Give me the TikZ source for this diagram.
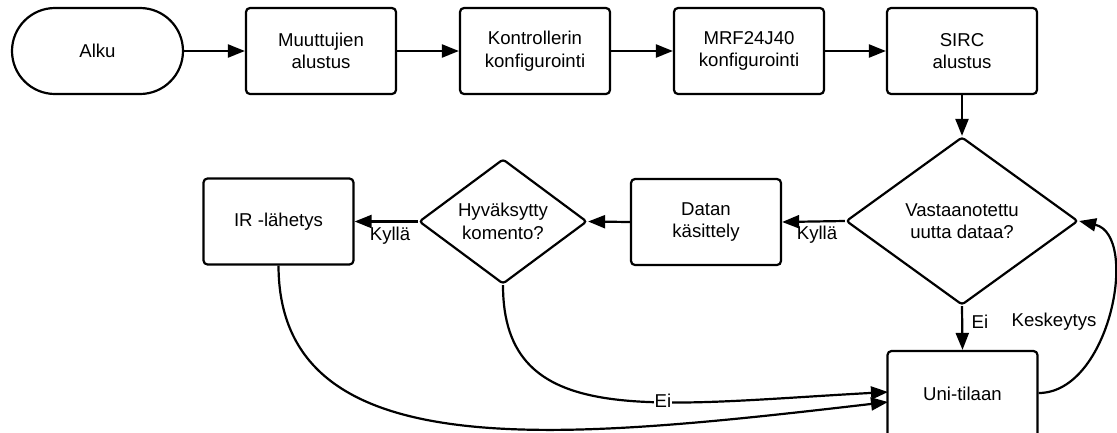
\documentclass[tikz,border=0pt]{standalone}
\usepackage{fontspec}
\setmainfont{Liberation Sans}
\usetikzlibrary{shapes.geometric,arrows.meta}
\begin{document}
\begin{tikzpicture}[x=1pt,y=-1pt,
  font=\fontsize{18.6}{22.5}\selectfont,
  every node/.style={inner sep=0pt, align=center},
  procbox/.style={draw, line width=2.2pt, rounded corners=4pt, minimum width=150pt, minimum height=86pt},
  termbox/.style={draw, line width=2.2pt, rounded corners=43pt, minimum width=171pt, minimum height=86pt},
  decbig/.style={draw, diamond, line width=2.2pt, rounded corners=3pt, minimum width=232pt, minimum height=168pt, aspect=1.38},
  decsmall/.style={draw, diamond, line width=2.2pt, rounded corners=3pt, minimum width=168pt, minimum height=125pt, aspect=1.34},
  conn/.style={line width=2.2pt, -{Triangle[length=17pt,width=13pt]}},
  lbl/.style={inner sep=1pt}
]
\useasboundingbox (0,0) rectangle (1117,432);
\node[termbox] (alku) at (97.5,51) {Alku};
\node[procbox] (muut) at (321,51) {Muuttujien\\alustus};
\node[procbox] (kont) at (535,51) {Kontrollerin\\konfigurointi};
\node[procbox] (mrf) at (749,51) {MRF24J40\\konfigurointi};
\node[procbox] (sirc) at (962,51) {SIRC\\alustus};
\node[decbig] (vast) at (962,221) {Vastaanotettu\\uutta dataa?};
\node[procbox] (datan) at (706,222) {Datan\\käsittely};
\node[decsmall] (hyv) at (503,221.5) {Hyväksytty\\komento?};
\node[procbox] (ir) at (278.5,221.5) {IR -lähetys};
\node[procbox] (uni) at (962.5,394) {Uni-tilaan};

\coordinate (uniA) at (888,392);
\coordinate (uniB) at (888,402);

\draw[conn] (alku) -- (muut);
\draw[conn] (muut) -- (kont);
\draw[conn] (kont) -- (mrf);
\draw[conn] (mrf) -- (sirc);
\draw[conn] (sirc) -- (vast);
\draw[conn] (vast.west) -- (datan.east);
\draw[conn] (datan.west) -- (hyv.east);
\draw[conn] (hyv.west) -- (ir.east |- hyv.west);
\draw[conn] (vast.south) -- (uni.north);
\draw[conn] (uni.east |- 0,393) .. controls (1110,393) and (1140,235) .. (vast.east);
\draw[conn] (hyv.south) .. controls (503,430) and (650,405) .. (uniA);
\draw[conn] (ir.south) .. controls (279,470) and (560,440) .. (uniB);

\node[lbl] (k1) at (390,236) {Kyllä};
\node[lbl] (k2) at (817,235) {Kyllä};
\node[lbl] (e1) at (980,322) {Ei};
\node[lbl] (ke) at (1054,322) {Keskeytys};
\node[lbl, fill=white] (e2) at (663,401) {Ei};
\end{tikzpicture}
\end{document}
